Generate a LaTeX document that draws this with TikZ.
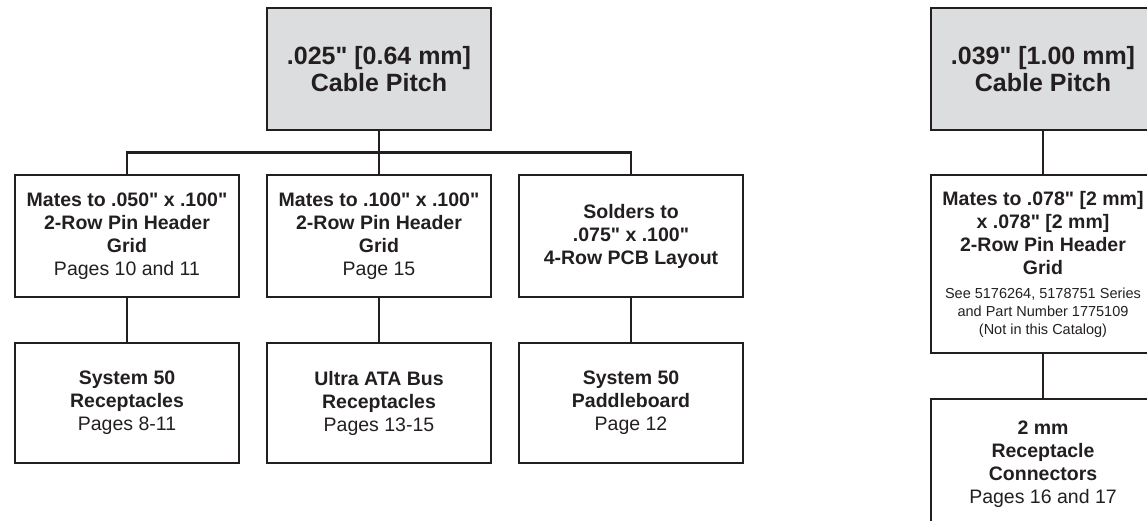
\documentclass[tikz,border=0pt]{standalone}
\usepackage{fontspec}
\setmainfont{Liberation Sans}[Ligatures=TeXOff]
\usepackage{tikz}
\usetikzlibrary{calc}
\definecolor{ink}{HTML}{231F20}
\definecolor{pitchgray}{HTML}{DCDDDE}
\newcommand{\smalltxt}{\fontsize{14.5}{15.5}\selectfont}
\tikzset{
	box/.style={draw=ink, line width=2.4pt, text=ink, minimum width=224pt, inner sep=0pt, align=center, font=\fontsize{19.5}{23}\selectfont},
	pitchbox/.style={box, fill=pitchgray, minimum height=122pt, font=\bfseries\fontsize{25}{27}\selectfont},
	wire/.style={draw=ink, line width=2.2pt}
}

\begin{document}
\begin{tikzpicture}[x=1pt, y=-1pt]
	\useasboundingbox (0,0) rectangle (1147,520);
	\clip (0,0) rectangle (1147,520);
	% cable pitch
	\node[pitchbox] (p025) at (379,69) {.025" [0.64 mm]\\Cable Pitch};
	\node[pitchbox] (p039) at (1043,69) {.039" [1.00 mm]\\Cable Pitch};
	% mating grids
	\node[box, minimum height=122pt] (m050) at (127,236) {\textbf{Mates to .050" x .100"}\\\textbf{2-Row Pin Header}\\\textbf{Grid}\\Pages 10 and 11};
	\node[box, minimum height=122pt] (m100) at (379,236) {\textbf{Mates to .100" x .100"}\\\textbf{2-Row Pin Header}\\\textbf{Grid}\\Page 15};
	\node[box, minimum height=122pt] (s075) at (631,236) {\textbf{Solders to}\\\textbf{.075" x .100"}\\\textbf{4-Row PCB Layout}};
	\node[box, minimum height=178pt] (m078) at (1043,264) {\textbf{Mates to .078" [2 mm]}\\\textbf{x .078" [2 mm]}\\\textbf{2-Row Pin Header}\\\textbf{Grid}\\[1pt]{\smalltxt See 5176264, 5178751 Series}\\[-5pt]{\smalltxt and Part Number 1775109}\\[-5pt]{\smalltxt (Not in this Catalog)}};
	% receptacles
	\node[box, minimum height=120pt] (rec50) at (127,403) {\textbf{System 50}\\\textbf{Receptacles}\\Pages 8-11};
	\node[box, minimum height=120pt] (ata) at (379,403) {\textbf{Ultra ATA Bus}\\\textbf{Receptacles}\\Pages 13-15};
	\node[box, minimum height=120pt] (paddle) at (631,403) {\textbf{System 50}\\\textbf{Paddleboard}\\Page 12};
	\node[box, minimum height=130pt] (rec2) at (1043,464) {\textbf{2 mm}\\\textbf{Receptacle}\\\textbf{Connectors}\\Pages 16 and 17};
	% connectors
	\draw[wire] (p025.south) -- (m100.north);
	\draw[wire] (m050.north) |- ($(p025.south)!.5!(m100.north)$) -| (s075.north);
	\foreach \a/\b in {m050/rec50, m100/ata, s075/paddle, p039/m078, m078/rec2}
		\draw[wire] (\a.south) -- (\b.north);
\end{tikzpicture}
\end{document}
